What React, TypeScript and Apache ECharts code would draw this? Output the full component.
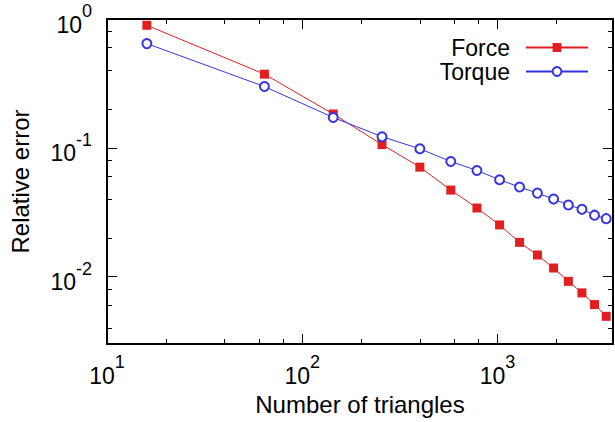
import React, { useEffect, useRef } from 'react';
import * as echarts from 'echarts';

const triangles = [16, 64, 144, 256, 400, 576, 784, 1024, 1296, 1600, 1936, 2304, 2704, 3136, 3600];
const forceError = [0.894, 0.373, 0.183, 0.106, 0.0708, 0.047, 0.0341, 0.0252, 0.01845, 0.01472, 0.01167, 0.0092, 0.00748, 0.00607, 0.00492];
const torqueError = [0.644, 0.299, 0.172, 0.122, 0.0982, 0.0783, 0.0667, 0.0565, 0.0496, 0.0445, 0.04, 0.036, 0.0333, 0.03, 0.0282];

const xMajorTicks = [10, 100, 1000];
const xMinorTicks = [20, 40, 60, 80, 200, 400, 600, 800, 2000];
const yMajorTicks = [0.01, 0.1, 1];
const yMinorTicks = [0.004, 0.006, 0.008, 0.02, 0.04, 0.06, 0.08, 0.2, 0.4, 0.6, 0.8];

const xRange = [10, 3900];
const yRange = [0.003, 1];

const FONT = "'Liberation Sans', Arial, Helvetica, sans-serif";
const RED = '#e02020';
const BLUE = '#3535e0';

function expLabel(v: number): string {
  const e = Math.round(Math.log10(v));
  return `{b|10}{s|${e}}`;
}

const rich = {
  b: { fontSize: 23, lineHeight: 34, verticalAlign: 'bottom', fontFamily: FONT, color: '#000' },
  s: { fontSize: 18, lineHeight: 16, verticalAlign: 'top', fontFamily: FONT, color: '#000' },
};

function makeAxis(kind: 'x' | 'y', position: string, range: number[], ticks: number[], major: boolean, withLabels: boolean, extra: any = {}) {
  return {
    type: 'log',
    logBase: 10,
    position,
    min: range[0],
    max: range[1],
    splitLine: { show: false },
    minorTick: { show: false },
    axisLine: { show: major, lineStyle: { color: '#000', width: 2 } },
    axisTick: {
      show: true,
      inside: true,
      length: major ? 10 : 5,
      customValues: ticks,
      lineStyle: { color: '#000', width: 1 },
    },
    axisLabel: withLabels
      ? {
          show: true,
          customValues: ticks,
          formatter: (v: number) => expLabel(v),
          rich,
          margin: kind === 'x' ? 9 : 15,
        }
      : { show: false },
    ...extra,
  };
}

export default function App() {
  const ref = useRef<HTMLDivElement>(null);
  useEffect(() => {
    document.body.style.margin = '0';
    if (!ref.current) return;
    const chart = echarts.init(ref.current, undefined, { renderer: 'svg' });
    const option: any = {
      animation: false,
      backgroundColor: '#fff',
      textStyle: { fontFamily: FONT },
      grid: { left: 101, top: 19, right: 2, bottom: 78 },
      legend: {
        data: ['Force', 'Torque'],
        orient: 'vertical',
        align: 'right',
        right: 21,
        top: 31,
        itemWidth: 62,
        itemHeight: 11,
        itemGap: 1,
        textStyle: { fontSize: 23, color: '#000', fontFamily: FONT, padding: [0, 11, 0, 0] },
      },
      xAxis: [
        makeAxis('x', 'bottom', xRange, xMajorTicks, true, true, {
          name: 'Number of triangles',
          nameLocation: 'middle',
          nameGap: 48,
          nameTextStyle: { fontSize: 24, color: '#000', fontFamily: FONT },
        }),
        makeAxis('x', 'bottom', xRange, xMinorTicks, false, false),
        makeAxis('x', 'top', xRange, xMajorTicks, true, false),
        makeAxis('x', 'top', xRange, xMinorTicks, false, false),
      ],
      yAxis: [
        makeAxis('y', 'left', yRange, yMajorTicks, true, true, {
          name: 'Relative error',
          nameLocation: 'middle',
          nameGap: 75,
          nameTextStyle: { fontSize: 24, color: '#000', fontFamily: FONT },
        }),
        makeAxis('y', 'left', yRange, yMinorTicks, false, false),
        makeAxis('y', 'right', yRange, yMajorTicks, true, false),
        makeAxis('y', 'right', yRange, yMinorTicks, false, false),
      ],
      series: [
        {
          name: 'Force',
          type: 'line',
          xAxisIndex: 0,
          yAxisIndex: 0,
          data: triangles.map((x, i) => [x, forceError[i]]),
          symbol: 'rect',
          symbolSize: 9,
          showSymbol: true,
          itemStyle: { color: RED },
          lineStyle: { color: RED, width: 1 },
        },
        {
          name: 'Torque',
          type: 'line',
          xAxisIndex: 0,
          yAxisIndex: 0,
          data: triangles.map((x, i) => [x, torqueError[i]]),
          symbol: 'emptyCircle',
          symbolSize: 9,
          showSymbol: true,
          itemStyle: { color: BLUE, borderWidth: 1 },
          lineStyle: { color: BLUE, width: 1 },
        },
      ],
    };
    chart.setOption(option);
    return () => chart.dispose();
  }, []);
  return <div ref={ref} style={{ width: 615, height: 422 }} />;
}
